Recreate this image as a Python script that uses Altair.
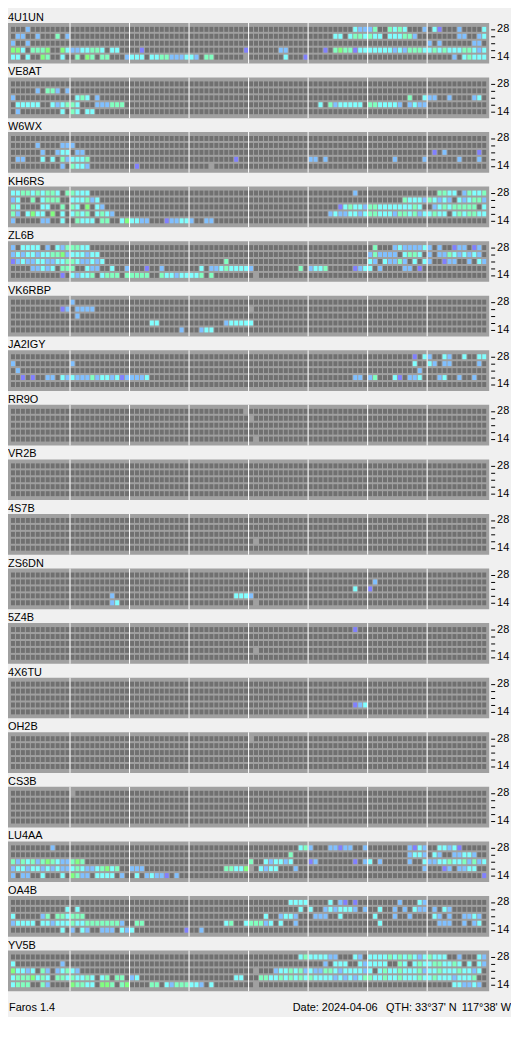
import altair as alt
import pandas as pd

# ---------------- data ----------------
STATIONS = ["4U1UN", "VE8AT", "W6WX", "KH6RS", "ZL6B", "VK6RBP", "JA2IGY", "RR9O", "VR2B",
            "4S7B", "ZS6DN", "5Z4B", "4X6TU", "OH2B", "CS3B", "LU4AA", "OA4B", "YV5B"]
BAND_LABELS = ["28", "", "", "", "14"]          # rows top -> bottom
SLOTS = 96                                      # 15-minute slots over 24 h
HOUR_LINES = [12, 24, 36, 48, 60, 72, 84]       # every 3 hours

CODES = [".", "L", "c", "a", "b", "p", "G"]
COLORS = ["#707070", "#a0a0a0", "#80ffff", "#80ffc0", "#80c0ff", "#8080ff", "#80ff80"]

# each row: "start:codes" runs, rows are 28,24,21,18,14 MHz
R_4U1UN = ["3:b 69:cbbba 76:acac 83:b 85:cp 90:b 95:c",
           "1:bb 5:b 9:a 11:b 65:cc 68:caacacc 76:cccaab 90:bb 94:bc",
           "0:b 3:b 84:b 86:b 93:bb",
           "0:GGc 4:aaaG 10:Gcbbccaac 20:cc 26:p 47:p 54:bb 63:p 65:aGaapcccccccbcbaaaccacacccaacbc",
           "0:cc 3:c 6:Ga 10:c 13:a 15:Ga 18:aa 23:bccc 28:ccaabbbccb 39:aa 47:L 55:c 59:p 89:b 91:caccc"]
R_VE8AT = ["",
           "5:b 7:aab 11:b",
           "0:b 13:cac 17:b 80:a 83:cbb 88:b 93:bc",
           "1:ccccc 8:cbcaac 17:bbbaaa 62:c 64:abccccc 72:aaccccb 80:bcbb",
           "1:b 10:c 12:ac 15:cc"]
R_W6WX = ["",
          "5:b 10:bbb",
          "6:b 9:bcc 13:bb 85:p 87:b 94:p",
          "1:bb 6:c 8:c 10:abccca 45:p 60:bb 63:b 77:b 83:b 90:b 94:b",
          "10:b 12:accb 25:p 40:L"]
R_KH6RS = ["0:ccaacacaac 11:aaccc 69:b 86:aacc 91:bacca",
           "0:bc 4:a 6:caaa 12:cccabc 79:acccbacbcb 90:cbcaab",
           "0:ac 6:cc 10:a 12:ac 15:G 17:cb 66:pcacc 71:baacccccccac 85:bcacaaaaa 95:c",
           "0:ab 3:cGcc 8:G 10:c 12:caca 17:cacb 64:bcbbccbcaacccbaacabcca 86:cc 89:cacaacc",
           "0:b 6:bb 10:c 13:accc 18:aa 22:cGccbb 31:pbbccb 39:bb"]
R_ZL6B = ["0:b 2:cccc 7:b 9:cbaaacc 73:a 77:bcbbbbcb 86:b 89:pbb 93:pb",
          "0:bcbccbccaaGbcccbcc 72:babbbb 79:caac 84:b 86:bbacbcbcb",
          "0:pbcbbccbbccaacbbcbc 43:a 72:cb 75:cbbab 81:c 83:cb 87:pbb 92:b 94:cb",
          "4:bbcbc 10:aaa 15:cbb 20:c 23:b 27:p 30:b 38:c 40:bbcaccccb 58:a 60:bcca 69:pbcc 74:b 79:bb 82:p",
          "10:p 12:cbcca 18:caaa 23:aaaaa 30:accbcccca 40:a 49:L"]
R_VK6RBP = ["12:b",
            "10:pb 13:bbbb 48:L",
            "13:b",
            "28:cc 43:bccccc",
            "34:b 38:bcc"]
R_JA2IGY = ["81:p 83:cb 87:cb 91:c 94:cc",
            "0:b 12:b 81:c 84:cb 87:bb 94:b",
            "1:b 82:b",
            "2:p 4:p 7:bb 10:cbcbbbabccbcpbbbbc 69:bb 72:ba 77:cp 80:bbc 86:bc 90:b 93:b",
            ""]
R_RR9O = ["47:L", "48:L", "", "", "49:L"]
R_VR2B = ["", "", "", "", ""]
R_4S7B = ["", "", "", "49:L", ""]
R_ZS6DN = ["", "73:b", "69:c 72:p", "20:b 45:cccb", "20:bc 49:L"]
R_5Z4B = ["69:p", "", "", "49:L", ""]
R_4X6TU = ["", "", "", "69:pbc", ""]
R_OH2B = ["48:L", "", "", "", ""]
R_CS3B = ["12:L", "", "", "", ""]
R_LU4AA = ["8:b 58:cab 64:bbpbb 71:b 80:bpcb 86:ccbcp",
           "56:a 80:bccb 85:cb 89:bbccb",
           "0:abacabaGacbbaGa 48:a 51:cbccbc 60:pb 69:p 71:bc 74:b 80:b 83:cbbccaccababc",
           "0:bccbccbcbcbbcacbbcaGca 24:bbb 43:aaccG 48:L 50:cbcc 57:b 83:b 87:pb 90:bbcc",
           "0:b 2:bb 6:c 10:c 12:Gabb 17:cccc 22:b 25:c 27:bcbbp 33:b 95:p"]
R_OA4B = ["56:cccc 64:c 66:bp 69:p 78:b 82:cb",
          "11:c 13:c 58:c 60:c 63:bcbcccb 71:b 74:c 77:b 79:b 81:cbb 85:b 87:cb",
          "0:c 6:ba 9:aacaaa 51:c 54:bccb 61:bbb 66:c 73:c 77:b 80:b 85:cb 88:b 91:bbcb",
          "0:bcccc 6:ccbcccaccaaaaaaab 25:aa 43:ca 47:caaabc 54:c 57:b 74:c 86:bbb 91:b 93:bc",
          "10:c 12:b 14:cb 18:bbb 22:cbc 35:p 38:b"]
R_YV5B = ["58:caccccbb 69:cb 72:ccccacacacbcaccc 90:b 94:cb",
          "0:c 10:b 63:b 65:ccc 70:cbcccc 78:ac 81:caccaaccac 92:c 94:cb",
          "0:Gccbc 6:ab 9:bcac 13:b 49:L 53:bccacabcbbaacbccccbc 74:caccacccabccacccaccbc",
          "0:caaaGcac 9:aacaccac 18:ca 21:aa 24:bc 45:cc 50:aaccacacacaccccbcbcbcaaccaccacccaccacccbccca",
          "0:caaa 6:ab 12:Gaacc 18:GGa 22:aG 28:aa 31:cbaaaccb 40:c 49:L 89:ccbbcb"]

ROWS = [R_4U1UN, R_VE8AT, R_W6WX, R_KH6RS, R_ZL6B, R_VK6RBP, R_JA2IGY, R_RR9O, R_VR2B,
        R_4S7B, R_ZS6DN, R_5Z4B, R_4X6TU, R_OH2B, R_CS3B, R_LU4AA, R_OA4B, R_YV5B]

FOOTER_TEXTS = ["Faros 1.4", "Date: 2024-04-06", "QTH: 33°37' N", "117°38' W"]
FOOTER_X = [1, 287, 381, 507]
FOOTER_ALIGN = ["left", "left", "left", "right"]

# ---------------- layout constants ----------------
FONT = "Liberation Sans"
W, H = 485, 41
XS = alt.Scale(domain=[-0.6, 96.4], nice=False, zero=False)
YS = alt.Scale(domain=[-4 / 7, 37 / 7], nice=False, zero=False, reverse=True)


def cells(rows):
    recs = []
    for r, spec in enumerate(rows):
        line = ["."] * SLOTS
        for tok in spec.split():
            s, codes = tok.split(":")
            for i, ch in enumerate(codes):
                line[int(s) + i] = ch
        for k, ch in enumerate(line):
            recs.append({"slot": k, "row": r, "code": ch})
    return pd.DataFrame(recs)


label_expr = ("datum.value < 1 ? '%s' : (datum.value > 4 ? '%s' : '')"
              % (BAND_LABELS[0], BAND_LABELS[4]))


def panel(name, rows, footer=False):
    df = cells(rows)
    rects = alt.Chart(df).transform_calculate(
        x1="datum.slot + 0.8", y1="datum.row + 5/7"
    ).mark_rect(strokeWidth=0).encode(
        x=alt.X("slot:Q", scale=XS, axis=None),
        x2="x1:Q",
        y=alt.Y("row:Q", scale=YS, title=None,
                axis=alt.Axis(orient="right", values=[r + 2.5 / 7 for r in range(5)],
                              labelExpr=label_expr, grid=False, domain=False,
                              ticks=True, tickSize=4, tickColor="black", tickWidth=1,
                              labelFontSize=11, labelFont=FONT, labelColor="black",
                              labelPadding=2, offset=2, translate=0,
                              labelOverlap=False, labelFlush=False)),
        y2="y1:Q",
        color=alt.Color("code:N", scale=alt.Scale(domain=CODES, range=COLORS), legend=None),
    )
    lines = alt.Chart(pd.DataFrame({"b": HOUR_LINES})).transform_calculate(
        xr="datum.b - 0.1"
    ).mark_rule(color="white", strokeWidth=1).encode(
        x=alt.X("xr:Q", scale=XS, axis=None), y=alt.value(0), y2=alt.value(H)
    )
    title = alt.Chart(alt.Data(values=[{"t": name}])).mark_text(
        align="left", baseline="alphabetic", fontSize=11, font=FONT, color="black"
    ).encode(text="t:N", x=alt.value(0), y=alt.value(-2))
    layers = [rects, lines, title]
    if footer:
        for txt, px, al in zip(FOOTER_TEXTS, FOOTER_X, FOOTER_ALIGN):
            layers.append(
                alt.Chart(alt.Data(values=[{"t": txt}])).mark_text(
                    align=al, baseline="alphabetic", fontSize=11, font=FONT, color="black"
                ).encode(text="t:N", x=alt.value(px), y=alt.value(H + 20))
            )
    return alt.layer(*layers).properties(width=W, height=H)


panels = [panel(n, r, footer=(i == len(STATIONS) - 1))
          for i, (n, r) in enumerate(zip(STATIONS, ROWS))]

chart = alt.vconcat(*panels, spacing=14, bounds="flush").properties(
    background="#f0f0f0",
    padding={"left": 0, "top": 0, "right": 0, "bottom": 0},
).configure_view(fill="#a0a0a0", stroke="#a0a0a0", strokeWidth=0)

chart.save("out.html", embed_options={"renderer": "svg", "actions": False})
